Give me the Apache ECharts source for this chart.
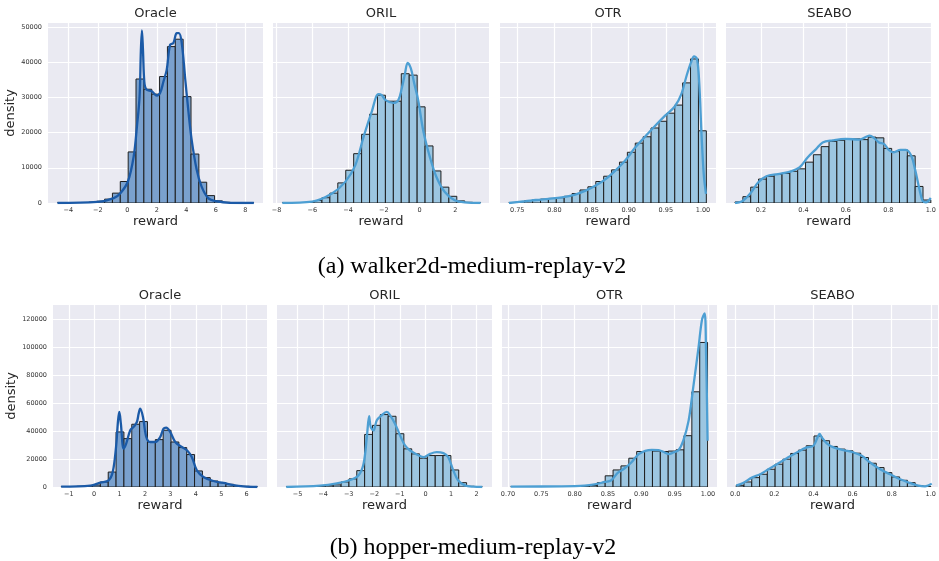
<!DOCTYPE html>
<html>
<head>
  <meta charset="utf-8" />
  <title>reward histograms</title>
  <script src="https://cdn.jsdelivr.net/npm/echarts@6/dist/echarts.min.js"></script>
</head>
<style>
  body { margin: 0; padding: 0; overflow: hidden; background: #fff; }
</style>
<body>
  <div id="main" style="width: 939px; height: 561px;"></div>
  <script type="text/javascript">
    // method names, same for both rows
    const methods = ['Oracle', 'ORIL', 'OTR', 'SEABO'];
    const captions = ['(a) walker2d-medium-replay-v2', '(b) hopper-medium-replay-v2'];

    // histogram data: [min, max] of the rewards (25 equal bins) and the counts
    const walkerOracleRange = [-4.74, 8.58];
    const walkerOracleCounts = [20, 30, 60, 120, 250, 500, 1100, 2800, 6100, 14500, 35200, 32300, 30900, 35900, 44400, 46500, 30200, 13900, 5900, 2100, 600, 200, 80, 40, 20];
    const walkerOrilRange = [-7.68, 3.41];
    const walkerOrilCounts = [30, 60, 120, 300, 700, 1500, 2800, 5700, 9300, 14000, 19500, 25200, 30600, 28900, 28900, 36700, 36300, 27300, 16200, 9100, 4500, 1900, 600, 200, 50];
    const walkerOtrRange = [0.7388, 1.0045];
    const walkerOtrCounts = [100, 400, 700, 900, 1100, 1300, 1500, 1900, 2700, 3700, 4600, 6100, 7600, 9400, 11600, 14400, 17000, 18800, 21300, 23200, 25500, 27800, 34100, 40900, 20500];
    const walkerSeaboRange = [0.0786, 1.0];
    const walkerSeaboCounts = [300, 1800, 4500, 6800, 7600, 8100, 8400, 9000, 9700, 11600, 13700, 16000, 17500, 17800, 18200, 18200, 18000, 18700, 18500, 15500, 14600, 15100, 13400, 4700, 850];

    const hopperOracleRange = [-1.3, 6.42];
    const hopperOracleCounts = [200, 250, 500, 700, 1400, 3600, 10700, 39400, 34600, 44900, 46800, 32200, 33900, 40600, 32200, 28200, 23200, 11500, 6700, 4300, 3100, 1900, 1000, 500, 200];
    const hopperOrilRange = [-5.44, 2.22];
    const hopperOrilCounts = [50, 100, 200, 400, 600, 900, 1500, 3600, 5800, 11700, 37600, 44100, 51800, 50600, 38100, 27300, 23700, 20600, 22500, 22500, 22500, 12200, 3100, 500, 100];
    const hopperOtrRange = [0.704, 0.9995];
    const hopperOtrCounts = [50, 50, 50, 50, 80, 100, 150, 200, 300, 600, 1000, 3100, 8000, 12200, 15100, 20600, 25400, 26100, 25700, 25400, 25700, 26600, 36700, 68100, 103400];
    const hopperSeaboRange = [0.005, 1.0];
    const hopperSeaboCounts = [1200, 3600, 6700, 9100, 12700, 16300, 19900, 24000, 26400, 29500, 36500, 33100, 29000, 27100, 25900, 24200, 21100, 17000, 13900, 10300, 7200, 4800, 3100, 1000, 500];

    // kde curves (scaled to counts)
    const walkerOracleKde = [[-4.74, 0], [-2.04, 300], [-0.92, 1400], [-0.47, 2800], [0.04, 6100], [0.43, 13200], [0.65, 21700], [0.83, 30200], [0.92, 43500], [0.99, 49000], [1.06, 43500], [1.15, 34500], [1.28, 32300], [1.66, 31700], [2.0, 30500], [2.22, 31200], [2.45, 34500], [2.67, 37800], [2.9, 44900], [3.12, 45400], [3.35, 48200], [3.5, 48200], [3.69, 45400], [3.91, 35900], [4.13, 26500], [4.36, 18000], [4.7, 9500], [5.03, 4700], [5.48, 1400], [6.04, 500], [6.94, 50], [8.58, 0]];
    const walkerOrilKde = [[-7.68, 0], [-6.01, 400], [-4.9, 2700], [-4.16, 6000], [-3.6, 10700], [-3.14, 18700], [-2.68, 25900], [-2.3, 30900], [-2.12, 30600], [-1.9, 29200], [-1.47, 28400], [-1.19, 29200], [-1.0, 32500], [-0.82, 36700], [-0.67, 39800], [-0.49, 38200], [-0.3, 33900], [-0.08, 29200], [0.2, 20600], [0.57, 13100], [0.94, 7400], [1.41, 3100], [1.96, 760], [2.52, 200], [3.41, 0]];
    const walkerOtrKde = [[0.7388, 0], [0.761, 500], [0.775, 850], [0.792, 1200], [0.81, 1600], [0.828, 2400], [0.842, 3500], [0.855, 4900], [0.869, 6800], [0.882, 9200], [0.895, 12000], [0.909, 15800], [0.922, 18800], [0.936, 22000], [0.949, 24800], [0.962, 27400], [0.971, 31000], [0.978, 36200], [0.984, 40000], [0.988, 41600], [0.992, 40900], [0.995, 33800], [0.998, 19600], [1.001, 8200], [1.004, 2600]];
    const walkerSeaboKde = [[0.0786, 0], [0.11, 400], [0.149, 2600], [0.188, 5900], [0.226, 7600], [0.281, 8200], [0.343, 9000], [0.382, 10100], [0.421, 13000], [0.46, 15300], [0.491, 17200], [0.538, 17800], [0.6, 18200], [0.662, 18000], [0.693, 18700], [0.712, 19100], [0.732, 18500], [0.756, 17200], [0.779, 16800], [0.802, 15100], [0.826, 14400], [0.857, 15100], [0.883, 15100], [0.908, 13400], [0.927, 9200], [0.946, 4000], [0.961, 660], [0.977, 200], [0.989, 660], [1.0, 1400]];

    const hopperOracleKde = [[-1.3, 200], [-0.15, 950], [0.24, 3100], [0.57, 4800], [0.73, 10700], [0.86, 28600], [0.94, 47700], [0.99, 53700], [1.05, 45300], [1.16, 27400], [1.26, 31000], [1.42, 40600], [1.55, 43000], [1.68, 46500], [1.75, 52500], [1.81, 56100], [1.92, 50100], [2.05, 35800], [2.21, 32200], [2.4, 32200], [2.6, 35800], [2.73, 41800], [2.83, 42500], [2.99, 39400], [3.19, 32200], [3.45, 28600], [3.65, 26300], [3.84, 21500], [4.04, 11900], [4.3, 7200], [4.69, 4300], [5.09, 2900], [5.48, 1400], [5.87, 500], [6.42, 0]];
    const hopperOrilKde = [[-5.44, 0], [-4.12, 1000], [-3.46, 2600], [-2.94, 5000], [-2.62, 8200], [-2.42, 16500], [-2.29, 35700], [-2.2, 50600], [-2.14, 42900], [-2.03, 40500], [-1.9, 47700], [-1.71, 51300], [-1.51, 53700], [-1.38, 51300], [-1.19, 45300], [-0.99, 36900], [-0.8, 29700], [-0.6, 26100], [-0.34, 23300], [-0.08, 21300], [0.18, 23700], [0.44, 24900], [0.7, 24200], [0.89, 21300], [1.09, 11800], [1.28, 4600], [1.54, 1200], [1.87, 200], [2.22, 0]];
    const hopperOtrKde = [[0.704, 200], [0.78, 500], [0.815, 1000], [0.83, 1900], [0.845, 3600], [0.855, 4800], [0.865, 10300], [0.875, 13400], [0.885, 17500], [0.896, 23500], [0.906, 25900], [0.916, 26600], [0.926, 26400], [0.933, 25200], [0.941, 23500], [0.948, 24700], [0.956, 26400], [0.963, 33100], [0.971, 47500], [0.978, 71500], [0.986, 100200], [0.991, 119400], [0.995, 124200], [0.997, 100200], [0.9995, 33100]];
    const hopperSeaboKde = [[0.005, 1000], [0.043, 3100], [0.085, 6700], [0.128, 9100], [0.17, 12700], [0.213, 16300], [0.264, 20600], [0.315, 24700], [0.366, 28300], [0.4, 29500], [0.421, 35500], [0.431, 37900], [0.443, 35500], [0.468, 31200], [0.503, 28300], [0.554, 26400], [0.605, 24700], [0.647, 22300], [0.69, 17500], [0.741, 12700], [0.792, 9100], [0.843, 5500], [0.894, 2900], [0.937, 1000], [0.971, 500], [1.005, 2400]];

    // tick labels
    const walkerOracleTicks = [-4, -2, 0, 2, 4, 6, 8];
    const walkerOrilTicks = [-8, -6, -4, -2, 0, 2];
    const walkerOtrTicks = [0.75, 0.8, 0.85, 0.9, 0.95, 1.0];
    const walkerSeaboTicks = [0.2, 0.4, 0.6, 0.8, 1.0];
    const hopperOracleTicks = [-1, 0, 1, 2, 3, 4, 5, 6];
    const hopperOrilTicks = [-5, -4, -3, -2, -1, 0, 1, 2];
    const hopperOtrTicks = [0.7, 0.75, 0.8, 0.85, 0.9, 0.95, 1.0];
    const hopperSeaboTicks = [0, 0.2, 0.4, 0.6, 0.8, 1.0];
    const walkerDensityTicks = [0, 10000, 20000, 30000, 40000, 50000];
    const hopperDensityTicks = [0, 20000, 40000, 60000, 80000, 100000, 120000];

    const font = 'DejaVu Sans';
    const bg = '#eaeaf2';

    const panels = [
      { range: walkerOracleRange, counts: walkerOracleCounts, kde: walkerOracleKde, ticks: walkerOracleTicks, dec: 0, yTicks: walkerDensityTicks, min: -5.38, max: 9.2, ymax: 51100, left: 48, top: 23, width: 215, height: 180, dark: true },
      { range: walkerOrilRange, counts: walkerOrilCounts, kde: walkerOrilKde, ticks: walkerOrilTicks, dec: 0, yTicks: walkerDensityTicks, min: -8.2, max: 3.88, ymax: 51100, left: 273, top: 23, width: 216, height: 180 },
      { range: walkerOtrRange, counts: walkerOtrCounts, kde: walkerOtrKde, ticks: walkerOtrTicks, dec: 2, yTicks: walkerDensityTicks, min: 0.7268, max: 1.0175, ymax: 51100, left: 500, top: 23, width: 216, height: 180 },
      { range: walkerSeaboRange, counts: walkerSeaboCounts, kde: walkerSeaboKde, ticks: walkerSeaboTicks, dec: 1, yTicks: walkerDensityTicks, min: 0.036, max: 1.004, ymax: 51100, left: 726, top: 23, width: 207, height: 180 },
      { range: hopperOracleRange, counts: hopperOracleCounts, kde: hopperOracleKde, ticks: hopperOracleTicks, dec: 0, yTicks: hopperDensityTicks, min: -1.62, max: 6.8, ymax: 130200, left: 53, top: 305, width: 214, height: 182, dark: true },
      { range: hopperOrilRange, counts: hopperOrilCounts, kde: hopperOrilKde, ticks: hopperOrilTicks, dec: 0, yTicks: hopperDensityTicks, min: -5.8, max: 2.6, ymax: 130200, left: 277, top: 305, width: 215, height: 182 },
      { range: hopperOtrRange, counts: hopperOtrCounts, kde: hopperOtrKde, ticks: hopperOtrTicks, dec: 2, yTicks: hopperDensityTicks, min: 0.691, max: 1.0136, ymax: 130200, left: 502, top: 305, width: 215, height: 182 },
      { range: hopperSeaboRange, counts: hopperSeaboCounts, kde: hopperSeaboKde, ticks: hopperSeaboTicks, dec: 1, yTicks: hopperDensityTicks, min: -0.042, max: 1.037, ymax: 130200, left: 727, top: 305, width: 211, height: 182 }
    ];

    const myChart = echarts.init(document.getElementById('main'));

    const grid = [], xAxis = [], yAxis = [], series = [], graphic = [];

    panels.forEach((p, i) => {
      const firstInRow = i % 4 === 0;
      grid.push({
        left: p.left, top: p.top, width: p.width, height: p.height,
        show: true, backgroundColor: bg, borderWidth: 0
      });
      xAxis.push({
        type: 'value', gridIndex: i, min: p.min, max: p.max,
        name: 'reward', nameLocation: 'middle', nameGap: 12,
        nameTextStyle: { fontFamily: font, fontSize: 13, color: '#262626' },
        axisLine: { show: false },
        axisTick: { show: false, customValues: p.ticks },
        axisLabel: {
          customValues: p.ticks, margin: 4, fontFamily: font, fontSize: 6.5, color: '#333',
          formatter: v => v.toFixed(p.dec).replace('-', '\u2212')
        },
        splitLine: { show: true, lineStyle: { color: '#fff', width: 1.2 } }
      });
      yAxis.push({
        type: 'value', gridIndex: i, min: 0, max: p.ymax,
        name: firstInRow ? 'density' : '', nameLocation: 'middle', nameGap: i === 0 ? 24 : 29,
        nameTextStyle: { fontFamily: font, fontSize: 13, color: '#262626' },
        axisLine: { show: false },
        axisTick: { show: false, customValues: p.yTicks },
        axisLabel: {
          show: firstInRow, customValues: p.yTicks, margin: 6,
          fontFamily: font, fontSize: 6.5, color: '#333',
          formatter: v => String(Math.round(v))
        },
        splitLine: { show: true, lineStyle: { color: '#fff', width: 1.2 } }
      });

      const w = (p.range[1] - p.range[0]) / p.counts.length;
      const bins = p.counts.map((c, k) => [p.range[0] + k * w, p.range[0] + (k + 1) * w, c]);
      const fill = p.dark ? '#7aa1ce' : '#9cc6e1';
      const lineColor = p.dark ? '#1b5aa7' : '#4d9fd3';

      series.push({
        type: 'custom', xAxisIndex: i, yAxisIndex: i, clip: true,
        encode: { x: [0, 1], y: 2 },
        renderItem: (params, api) => {
          const a = api.coord([api.value(0), 0]);
          const b = api.coord([api.value(1), api.value(2)]);
          return {
            type: 'rect',
            shape: { x: a[0], y: b[1], width: b[0] - a[0], height: a[1] - b[1] },
            style: { fill: fill, stroke: '#1e1e1e', lineWidth: 1 }
          };
        },
        data: bins, z: 2
      });
      series.push({
        type: 'line', xAxisIndex: i, yAxisIndex: i,
        data: p.kde, smooth: 0.35, showSymbol: false, symbol: 'none',
        lineStyle: { color: lineColor, width: 2.3 }, z: 3
      });

      graphic.push({
        type: 'text', x: p.left + p.width / 2, y: p.top - 9,
        style: { text: methods[i % 4], align: 'center', verticalAlign: 'middle', font: '13px "DejaVu Sans"', fill: '#262626' }
      });
    });

    graphic.push({
      type: 'text', x: 472, y: 267,
      style: { text: captions[0], align: 'center', verticalAlign: 'middle', font: '24px "Liberation Serif"', fill: '#000' }
    });
    graphic.push({
      type: 'text', x: 473, y: 548,
      style: { text: captions[1], align: 'center', verticalAlign: 'middle', font: '24px "Liberation Serif"', fill: '#000' }
    });

    myChart.setOption({
      animation: false,
      backgroundColor: '#fff',
      grid: grid,
      xAxis: xAxis,
      yAxis: yAxis,
      series: series,
      graphic: graphic
    });
  </script>
</body>
</html>
